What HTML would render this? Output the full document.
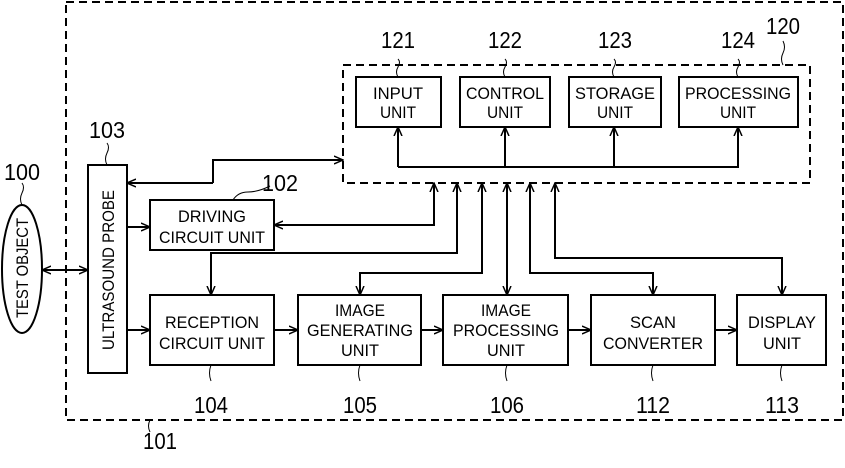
<!DOCTYPE html>
<html><head><style>
body{margin:0;background:#fff}
svg{display:block}
text{font-family:"Liberation Sans",sans-serif;fill:#000}
.b{font-size:17px;text-anchor:middle}
.n{font-size:23px;text-anchor:middle}
</style></head><body>
<svg width="845" height="468" viewBox="0 0 845 468">
<defs><marker id="a" markerWidth="10" markerHeight="10" refX="9" refY="5" orient="auto" markerUnits="userSpaceOnUse"><path d="M0,1 L9,5 L0,9" fill="none" stroke="#000" stroke-width="1.5"/></marker></defs>
<g fill="none" stroke="#000" stroke-width="2">
<rect x="66" y="2" width="777" height="418" stroke-dasharray="8,5"/>
<rect x="343" y="65" width="467" height="118" stroke-dasharray="8,5"/>
<rect x="356" y="77" width="85" height="50"/>
<rect x="460" y="77" width="90" height="50"/>
<rect x="569" y="77" width="92" height="50"/>
<rect x="679" y="77" width="119" height="50"/>
<rect x="88" y="165" width="39" height="208"/>
<ellipse cx="22" cy="269" rx="20" ry="64"/>
<rect x="150" y="200" width="124" height="50"/>
<rect x="150" y="295" width="124" height="70"/>
<rect x="298" y="295" width="123" height="70"/>
<rect x="443" y="295" width="125" height="70"/>
<rect x="591" y="295" width="124" height="70"/>
<rect x="737" y="295" width="89" height="70"/>
</g>
<g fill="none" stroke="#000" stroke-width="2" marker-end="url(#a)">
<path d="M398,167 V127"/><path d="M505,167 V127"/><path d="M614,167 V127"/><path d="M398,167 H738 V127"/>
<path d="M213,183 V160 H343"/><path d="M213,183 H127"/>
<path d="M127,227 H150"/><path d="M127,330 H150"/>
<path d="M274,225 H434 V183"/><path d="M434,225 H274"/>
<path d="M457,183 V253 H211 V295"/><path d="M457,253 V183"/>
<path d="M482,183 V273 H360 V295"/><path d="M482,273 V183"/>
<path d="M507,183 V295"/><path d="M507,295 V183"/>
<path d="M530,183 V273 H653 V295"/><path d="M530,273 V183"/>
<path d="M555,183 V258 H782 V295"/><path d="M555,258 V183"/>
<path d="M274,330 H298"/><path d="M421,330 H443"/><path d="M568,330 H591"/><path d="M715,330 H737"/>
<path d="M44,270 H88"/><path d="M80,270 H42"/>
</g>
<g fill="none" stroke="#000" stroke-width="1">
<path d="M22,205 q-3,-6 0,-12 q3,-6 0,-10"/><path d="M107,165 q-3,-6 0,-12 q3,-6 0,-10"/>
<path d="M233,200 q5,-8 15,-8 q10,0 22,-6"/>
<path d="M398,77 q-3,-5 0,-10 q3,-5 0,-8"/><path d="M505,77 q-3,-5 0,-10 q3,-5 0,-8"/><path d="M614,77 q-3,-5 0,-10 q3,-5 0,-8"/><path d="M738,77 q-3,-5 0,-10 q3,-5 0,-8"/><path d="M783,65 q-3,-6 0,-12 q3,-6 0,-12"/>
<path d="M211,365 q-3,8 0,16"/><path d="M360,365 q-3,8 0,16"/><path d="M507,365 q-3,8 0,16"/><path d="M653,365 q-3,8 0,16"/><path d="M782,365 q-3,8 0,16"/>
<path d="M150,420 q-3,6 0,12"/>
</g>
<text class="b" x="398" y="99" textLength="50" lengthAdjust="spacingAndGlyphs">INPUT</text><text class="b" x="398" y="118" textLength="36" lengthAdjust="spacingAndGlyphs">UNIT</text>
<text class="b" x="505" y="99" textLength="78" lengthAdjust="spacingAndGlyphs">CONTROL</text><text class="b" x="505" y="118" textLength="36" lengthAdjust="spacingAndGlyphs">UNIT</text>
<text class="b" x="615" y="99" textLength="80" lengthAdjust="spacingAndGlyphs">STORAGE</text><text class="b" x="615" y="118" textLength="36" lengthAdjust="spacingAndGlyphs">UNIT</text>
<text class="b" x="738" y="99" textLength="106" lengthAdjust="spacingAndGlyphs">PROCESSING</text><text class="b" x="738" y="118" textLength="36" lengthAdjust="spacingAndGlyphs">UNIT</text>
<text class="b" x="212" y="222" textLength="68" lengthAdjust="spacingAndGlyphs">DRIVING</text><text class="b" x="212" y="243" textLength="106" lengthAdjust="spacingAndGlyphs">CIRCUIT UNIT</text>
<text class="b" x="212" y="328" textLength="94" lengthAdjust="spacingAndGlyphs">RECEPTION</text><text class="b" x="212" y="349" textLength="106" lengthAdjust="spacingAndGlyphs">CIRCUIT UNIT</text>
<text class="b" x="360" y="316" textLength="50" lengthAdjust="spacingAndGlyphs">IMAGE</text><text class="b" x="360" y="336" textLength="106" lengthAdjust="spacingAndGlyphs">GENERATING</text><text class="b" x="360" y="356" textLength="38" lengthAdjust="spacingAndGlyphs">UNIT</text>
<text class="b" x="506" y="316" textLength="50" lengthAdjust="spacingAndGlyphs">IMAGE</text><text class="b" x="506" y="336" textLength="106" lengthAdjust="spacingAndGlyphs">PROCESSING</text><text class="b" x="506" y="356" textLength="38" lengthAdjust="spacingAndGlyphs">UNIT</text>
<text class="b" x="653" y="328" textLength="46" lengthAdjust="spacingAndGlyphs">SCAN</text><text class="b" x="653" y="349" textLength="100" lengthAdjust="spacingAndGlyphs">CONVERTER</text>
<text class="b" x="782" y="328" textLength="68" lengthAdjust="spacingAndGlyphs">DISPLAY</text><text class="b" x="782" y="349" textLength="38" lengthAdjust="spacingAndGlyphs">UNIT</text>
<text class="b" transform="translate(114,270) rotate(-90)" textLength="160" lengthAdjust="spacingAndGlyphs">ULTRASOUND PROBE</text>
<text class="b" transform="translate(28,268) rotate(-90)" textLength="100" lengthAdjust="spacingAndGlyphs">TEST OBJECT</text>
<text class="n" x="22" y="180" textLength="36" lengthAdjust="spacingAndGlyphs">100</text><text class="n" x="107" y="138" textLength="36" lengthAdjust="spacingAndGlyphs">103</text><text class="n" x="280" y="191" textLength="36" lengthAdjust="spacingAndGlyphs">102</text>
<text class="n" x="398" y="48" textLength="34" lengthAdjust="spacingAndGlyphs">121</text><text class="n" x="505" y="48" textLength="34" lengthAdjust="spacingAndGlyphs">122</text><text class="n" x="615" y="48" textLength="34" lengthAdjust="spacingAndGlyphs">123</text><text class="n" x="738" y="48" textLength="34" lengthAdjust="spacingAndGlyphs">124</text><text class="n" x="783" y="34" textLength="34" lengthAdjust="spacingAndGlyphs">120</text>
<text class="n" x="211" y="413" textLength="34" lengthAdjust="spacingAndGlyphs">104</text><text class="n" x="360" y="413" textLength="34" lengthAdjust="spacingAndGlyphs">105</text><text class="n" x="507" y="413" textLength="34" lengthAdjust="spacingAndGlyphs">106</text><text class="n" x="653" y="413" textLength="34" lengthAdjust="spacingAndGlyphs">112</text><text class="n" x="782" y="413" textLength="34" lengthAdjust="spacingAndGlyphs">113</text><text class="n" x="160" y="449" textLength="34" lengthAdjust="spacingAndGlyphs">101</text>
</svg>
</body></html>
